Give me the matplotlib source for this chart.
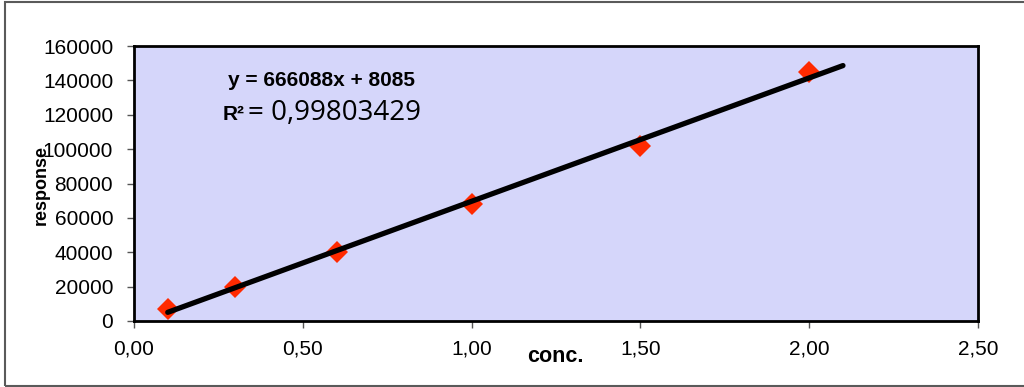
import numpy as np
import matplotlib
matplotlib.use("Agg")
import matplotlib.pyplot as plt
from matplotlib.patches import Rectangle

plt.rcParams["font.family"] = ["Liberation Sans", "DejaVu Sans"]

conc = [0.1, 0.3, 0.6, 1.0, 1.5, 2.0]
response = [7000, 20000, 40000, 68000, 102000, 145000]
x_ticks = [0.0, 0.5, 1.0, 1.5, 2.0, 2.5]
y_ticks = [0, 20000, 40000, 60000, 80000, 100000, 120000, 140000, 160000]
equation = "y = 666088x + 8085"
r2_value = "= 0,99803429"

W, H = 1024, 387
fig = plt.figure(figsize=(W / 100, H / 100), dpi=100)
fig.patch.set_facecolor("white")

# outer chart border (right side runs off the image)
fig.patches.append(Rectangle((5 / W, 1 - 386 / H), 1.2, (386 - 2) / H,
                             transform=fig.transFigure, fill=False,
                             edgecolor="#5a5a5a", linewidth=1.5))

ax = fig.add_axes([134 / W, 1 - 321 / H, (978 - 134) / W, (321 - 46) / H])
ax.set_facecolor("#d5d6fa")

# linear trendline, forecast forward to 2.1
slope, icpt = np.polyfit(conc, response, 1)
xs = np.array([min(conc), 2.1])
ax.plot(xs, slope * xs + icpt, color="black", linewidth=3.8,
        solid_capstyle="round", zorder=3)
ax.plot(conc, response, linestyle="none", marker="D", markersize=11,
        color="#ff2a00", markeredgewidth=0, zorder=2)

ax.set_xlim(0, 2.5)
ax.set_ylim(0, 160000)
ax.set_xticks(x_ticks)
ax.set_xticklabels([f"{v:.2f}".replace(".", ",") for v in x_ticks])
ax.set_yticks(y_ticks)
ax.set_yticklabels([str(v) for v in y_ticks])
ax.tick_params(labelsize=15, length=5, width=1, color="#555555")
ax.tick_params(axis="x", pad=8)
ax.tick_params(axis="y", pad=10)

for s in ax.spines.values():
    s.set_linewidth(2)
    s.set_color("black")

fig.text(41 / W, 1 - 185 / H, "response", rotation=90, fontsize=13,
         fontweight="bold", ha="center", va="center")
fig.text(555 / W, 1 - 357 / H, "conc.", fontsize=15.5, fontweight="bold",
         ha="center", va="center")

fig.text(322 / W, 1 - 80 / H, equation, fontsize=15, fontweight="bold",
         ha="center", va="center")
fig.text(223 / W, 1 - 115 / H, "R²", fontsize=15, fontweight="bold",
         ha="left", va="center")
fig.text(248 / W, 1 - 113 / H, r2_value, fontsize=20, family="Open Sans",
         ha="left", va="center")

fig.savefig("out.png", dpi=100)
